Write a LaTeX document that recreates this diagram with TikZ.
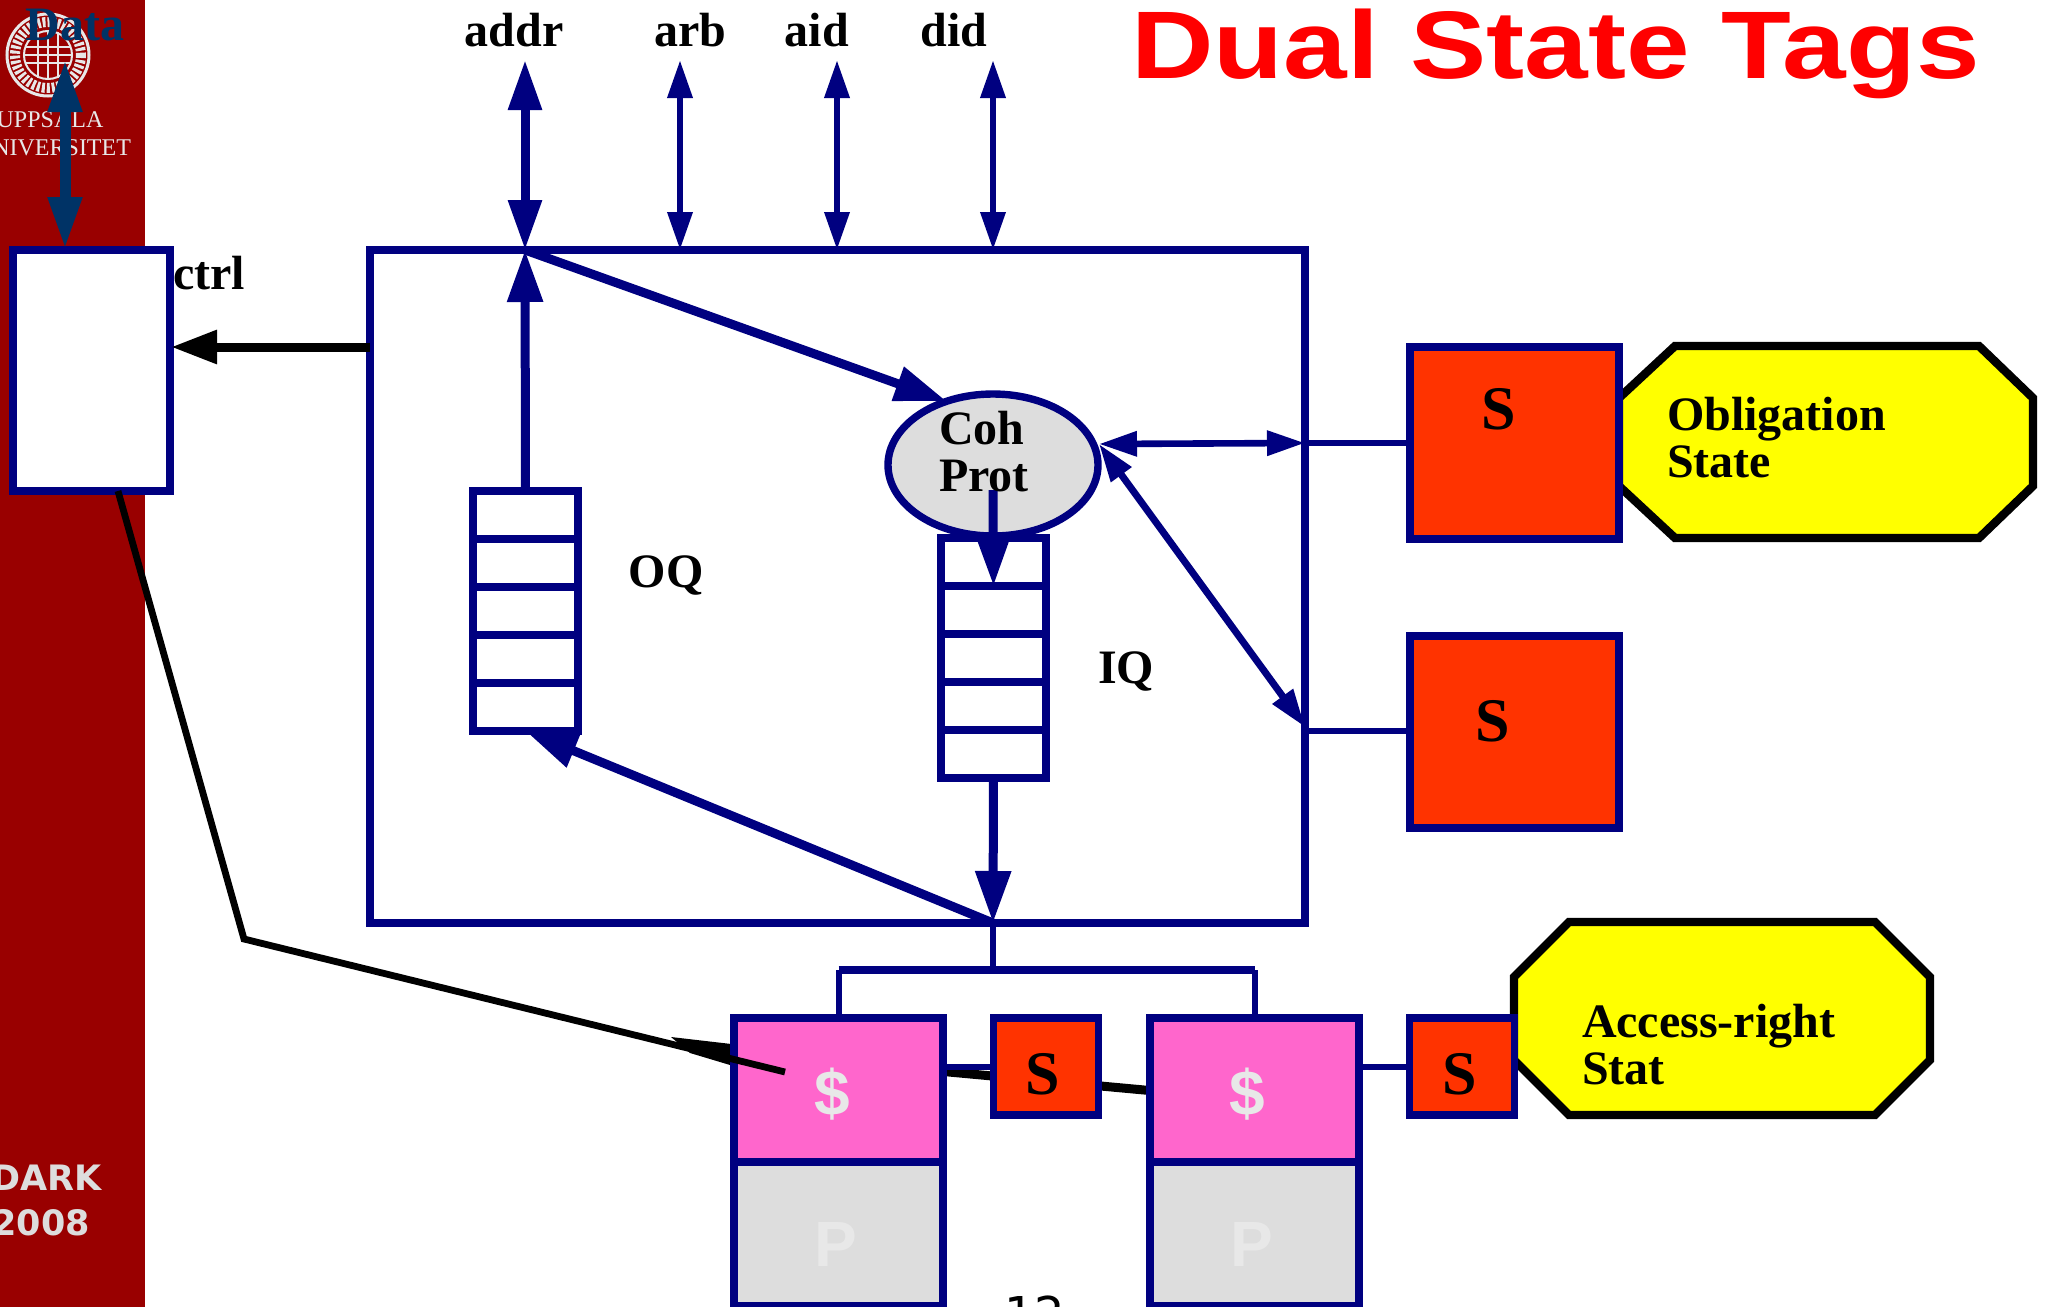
\documentclass[tikz,border=0pt]{standalone}
\usepackage{fontspec}
\setmainfont{Liberation Serif}
\newfontfamily\slidesans{DejaVu Sans}
\newfontfamily\ghostsans{Liberation Sans}
\usetikzlibrary{arrows.meta,positioning,shapes.geometric}
\definecolor{busnavy}{HTML}{000080}
\definecolor{datablue}{HTML}{003366}
\definecolor{stripred}{HTML}{990000}
\definecolor{stateorange}{HTML}{FF3300}
\definecolor{cachepink}{HTML}{FF66CC}
\definecolor{partgrey}{HTML}{DDDDDD}
\definecolor{faintgrey}{HTML}{E8E8E8}
\definecolor{octayellow}{HTML}{FFFF00}
\definecolor{titlered}{HTML}{FF0000}

\begin{document}
\begin{tikzpicture}[
  x=0.5pt, y=-0.5pt,
  every node/.style={inner sep=0pt, outer sep=0pt},
  boxed/.style={draw=busnavy, line width=3.7pt},
  slot/.style={boxed, fill=white, minimum width=52.5pt, minimum height=24pt},
  bigstate/.style={boxed, fill=stateorange, minimum width=104.5pt, minimum height=96pt},
  tinystate/.style={boxed, fill=stateorange, minimum width=52.5pt, minimum height=48.5pt},
  cachebox/.style={boxed, fill=cachepink, minimum width=104.5pt, minimum height=72pt},
  cpubox/.style={boxed, fill=partgrey, minimum width=104.5pt, minimum height=72pt},
  octa/.style={draw=black, line width=4.2pt, fill=octayellow},
  lbl/.style={font=\fontsize{24}{23.5}\selectfont\bfseries, text=black, align=left},
  letter/.style={font=\fontsize{31}{31}\selectfont\bfseries, text=black},
  ghost/.style={font=\ghostsans\fontsize{32}{32}\selectfont\bfseries, text=faintgrey},
  sidetxt/.style={font=\slidesans\fontsize{17.5}{17.5}\selectfont\bfseries, text=partgrey, anchor=base east},
  seal/.style={font=\fontsize{12}{12}\selectfont, text=faintgrey, anchor=base},
  fatarrow/.style={{Triangle[length=25pt,width=16pt]}-{Triangle[length=25pt,width=16pt]}, busnavy, line width=4.5pt},
  thinarrow/.style={{Triangle[length=19pt,width=12pt]}-{Triangle[length=19pt,width=12pt]}, busnavy, line width=3.3pt},
  oneway/.style={-{Triangle[length=26pt,width=17pt]}, busnavy, line width=4.5pt},
  stub/.style={busnavy, line width=3pt},
]
  \useasboundingbox (0,0) rectangle (2047,1307);

  %% Side strip and logo
  \fill[stripred] (0,0) rectangle (145,1307);
  \draw[faintgrey, line width=1.5pt] (48,55) circle (41);
  \draw[faintgrey, line width=5pt, dash pattern=on 1.5pt off 1pt] (48,55) circle (33);
  \draw[faintgrey, line width=1pt] (48,55) circle (24);
  \draw[faintgrey, line width=1.2pt] (25,47) -- (71,47) (25,55) -- (71,55) (25,63) -- (71,63)
    (38,32) -- (38,78) (48,32) -- (48,78) (58,32) -- (58,78);
  \node[seal] (uppsala) at (50,127) {UPPSALA};
  \node[seal] (univ) at (53,155) {UNIVERSITET};
  \node[sidetxt] (dark) at (102,1190) {DARK};
  \node[sidetxt] (year) at (90,1235) {2008};

  %% Title and page number
  \node[font=\ghostsans\fontsize{48}{48}\selectfont\bfseries, text=titlered, anchor=base,
        xscale=1.19, transform shape] (title) at (1555.5,78) {Dual State Tags};
  \node[font=\slidesans\fontsize{24}{24}\selectfont, text=black, anchor=base] (page) at (1035,1331) {12};

  %% Wires behind the boxes
  \coordinate (wedgeA) at (671,1037);
  \fill[black] (wedgeA) -- (740,1045) -- (740,1068) -- (690,1053) -- cycle;
  \coordinate (wireleft) at (1155,1091);
  \coordinate (wireright) at (938,1071);
  \draw[black, line width=4.5pt] (wireright) -- (wireleft);

  %% Octagons under the state boxes
  \draw[octa] (1675,346) -- (1979,346) -- (2033,398) -- (2033,486) -- (1979,538)
    -- (1675,538) -- (1619,486) -- (1619,398) -- cycle;
  \draw[octa] (1569,922) -- (1875,922) -- (1930,977) -- (1930,1060) -- (1875,1115)
    -- (1569,1115) -- (1514,1060) -- (1514,977) -- cycle;

  %% Main box and the control box
  \node[boxed, minimum width=467.5pt, minimum height=336.5pt] (main) at (837.5,586.5) {};
  \node[boxed, fill=white, minimum width=78.5pt, minimum height=120.5pt] (ctrlbox) at (91.5,370.5) {};

  %% Output queue
  \node[slot] (oq1) at (525.5,515) {};
  \node[slot, below=0pt of oq1] (oq2) {};
  \node[slot, below=0pt of oq2] (oq3) {};
  \node[slot, below=0pt of oq3] (oq4) {};
  \node[slot, below=0pt of oq4] (oq5) {};

  %% Input queue
  \node[slot] (iq1) at (993.5,562) {};
  \node[slot, below=0pt of iq1] (iq2) {};
  \node[slot, below=0pt of iq2] (iq3) {};
  \node[slot, below=0pt of iq3] (iq4) {};
  \node[slot, below=0pt of iq4] (iq5) {};

  \node[ellipse, boxed, fill=partgrey, minimum width=105pt, minimum height=71pt] (coh) at (993,465) {};

  %% State boxes, caches, processors
  \node[bigstate] (stateA) at (1514.5,443) {};
  \node[bigstate] (stateB) at (1514.5,732) {};
  \node[cachebox] (cacheA) at (838.5,1090) {};
  \node[cpubox, below=0pt of cacheA] (cpuA) {};
  \node[cachebox] (cacheB) at (1254.5,1090) {};
  \node[cpubox, below=0pt of cacheB] (cpuB) {};
  \node[tinystate] (tinyA) at (1046,1066.5) {};
  \node[tinystate] (tinyB) at (1462,1066.5) {};

  %% Ports on the main box
  \coordinate (addrport) at (525,250);
  \coordinate (arbport)  at (680,250);
  \coordinate (aidport)  at (837,250);
  \coordinate (didport)  at (993,250);
  \coordinate (addrend)  at (525,60);
  \coordinate (arbend)   at (680,60);
  \coordinate (aidend)   at (837,60);
  \coordinate (didend)   at (993,60);
  \coordinate (snoopport) at (993,923);
  \coordinate (bustop)   at (993,970);
  \coordinate (wallA)    at (1305,443);
  \coordinate (wallB)    at (1305,727);
  \coordinate (wallC)    at (1305,731);
  \coordinate (cohport)  at (1099,444);
  \coordinate (cohout)   at (993,490);
  \coordinate (dataend)  at (65,60);
  \coordinate (dataport) at (65,249);
  \coordinate (ctrlport) at (370,347);
  \coordinate (ctrlin)   at (171,347);

  %% Arrows
  \draw[fatarrow] (addrport) -- (addrend);
  \draw[thinarrow] (arbport) -- (arbend);
  \draw[thinarrow] (aidport) -- (aidend);
  \draw[thinarrow] (didport) -- (didend);
  \draw[{Triangle[length=26pt,width=16pt]}-{Triangle[length=26pt,width=16pt]}, datablue, line width=5.5pt] (dataport) -- (dataend);
  \draw[oneway] (oq1.north) -- (addrport);
  \draw[oneway] (addrport) -- (coh.126);
  \draw[oneway] (cohout) -- (iq1.south);
  \draw[oneway] (iq5.south) -- (snoopport);
  \draw[oneway] (snoopport) -- (oq5.south);
  \draw[thinarrow] (cohport) -- (wallA);
  \draw[thinarrow, line width=3.5pt] (cohport) -- (wallB);
  \draw[-{Triangle[length=23pt,width=16pt]}, black, line width=4.5pt] (ctrlport) -- (ctrlin);

  %% Stubs and the bus
  \draw[stub] (wallA) -- (stateA.west |- wallA);
  \draw[stub] (wallC) -- (stateB.west |- wallC);
  \draw[stub] (snoopport) -- (bustop);
  \draw[busnavy, line width=4pt] (cacheA.north |- bustop) -- (cacheB.north |- bustop);
  \draw[stub] (cacheA.north) -- (cacheA.north |- bustop);
  \draw[stub] (cacheB.north) -- (cacheB.north |- bustop);
  \draw[stub] (cacheA.east |- tinyA) -- (tinyA.west);
  \draw[stub] (cacheB.east |- tinyB) -- (tinyB.west);

  %% Thin black wire over the cache
  \coordinate (ctrlout) at (118,491);
  \coordinate (wirebend) at (244,939);
  \coordinate (wireend) at (785,1072);
  \draw[black, line width=3.4pt] (ctrlout) -- (wirebend) -- (wireend);

  %% Labels
  \node[lbl, text=datablue] (datatxt) at (75,25) {Data};
  \node[lbl] (addrtxt) at (514,30) {addr};
  \node[lbl] (arbtxt) at (690,30) {arb};
  \node[lbl] (aidtxt) at (817,30) {aid};
  \node[lbl] (didtxt) at (954,30) {did};
  \node[lbl] (ctrltxt) at (209,273) {ctrl};
  \node[lbl] (oqtxt) at (666,575) {OQ};
  \node[lbl] (iqtxt) at (1126,671) {IQ};
  \node[lbl, anchor=west] (cohtxt) at (939,452) {Coh\\Prot};
  \node[lbl, anchor=west] (obligtxt) at (1667,438) {Obligation\\State};
  \node[lbl, anchor=west] (accesstxt) at (1582,1045) {Access-right\\Stat};
  \node[letter] (stateAtxt) at (1499,409) {S};
  \node[letter] (stateBtxt) at (1493,721) {S};
  \node[letter] (tinyAtxt) at (1043,1074) {S};
  \node[letter] (tinyBtxt) at (1460,1074) {S};
  \node[ghost] (cacheAtxt) at (832,1094) {\$};
  \node[ghost] (cacheBtxt) at (1247,1094) {\$};
  \node[ghost] (cpuAtxt) at (836,1244) {P};
  \node[ghost] (cpuBtxt) at (1252,1244) {P};
\end{tikzpicture}
\end{document}
